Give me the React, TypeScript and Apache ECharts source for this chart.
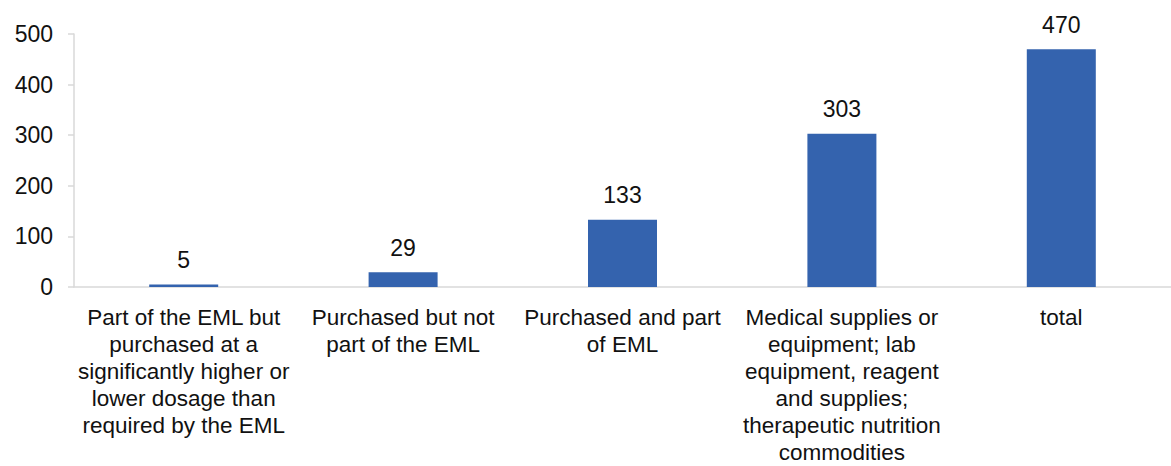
import React, { useEffect, useRef } from "react";
import * as echarts from "echarts";

const categories = [
  "Part of the EML but\npurchased at a\nsignificantly higher or\nlower dosage than\nrequired by the EML",
  "Purchased but not\npart of the EML",
  "Purchased and part\nof EML",
  "Medical supplies or\nequipment; lab\nequipment, reagent\nand supplies;\ntherapeutic nutrition\ncommodities",
  "total",
];
const values = [5, 29, 133, 303, 470];
const yTicks = { min: 0, max: 500, interval: 100 };

const FONT = "'Liberation Sans', Arial, sans-serif";

export default function App() {
  const ref = useRef<HTMLDivElement>(null);
  useEffect(() => {
    if (!ref.current) return;
    const chart = echarts.init(ref.current, undefined, { renderer: "svg" });
    chart.setOption({
      animation: false,
      grid: { left: 74, top: 34, width: 1110, height: 258, containLabel: false },
      xAxis: {
        type: "category",
        data: categories,
        axisLine: { show: true, lineStyle: { color: "#d9d9d9", width: 1.5 } },
        axisTick: { show: false },
        axisLabel: {
          interval: 0,
          color: "#111",
          fontFamily: FONT,
          fontSize: 22.5,
          lineHeight: 27,
          margin: 17,
          align: "center",
        },
      },
      yAxis: {
        type: "value",
        min: yTicks.min,
        max: yTicks.max,
        interval: yTicks.interval,
        axisLine: { show: true, lineStyle: { color: "#d9d9d9", width: 1.5 } },
        axisTick: { show: true, length: 6, lineStyle: { color: "#d9d9d9", width: 1.5 } },
        splitLine: { show: false },
        axisLabel: {
          color: "#111",
          fontFamily: FONT,
          fontSize: 23,
          margin: 21,
        },
      },
      series: [
        {
          type: "bar",
          data: values,
          barWidth: 69,
          itemStyle: { color: "#3463AE" },
          label: {
            show: true,
            position: "top",
            distance: 13,
            color: "#111",
            fontFamily: FONT,
            fontSize: 23,
          },
        },
      ],
    });
    return () => chart.dispose();
  }, []);
  return (
    <div
      ref={ref}
      style={{ position: "absolute", left: 0, top: 0, width: 1171, height: 466, overflow: "hidden", background: "#fff" }}
    />
  );
}
